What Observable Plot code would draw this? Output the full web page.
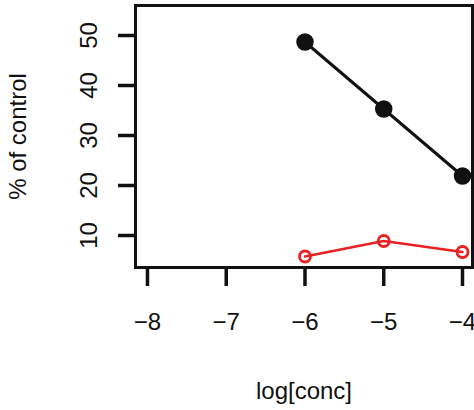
<!DOCTYPE html>
<html>
<head>
<meta charset="utf-8">
<script src="https://cdn.jsdelivr.net/npm/d3@7"></script>
<script src="https://cdn.jsdelivr.net/npm/@observablehq/plot@0.6"></script>
<style>
  html, body { margin: 0; padding: 0; background: #fff; }
  svg { display: block; }
  g[aria-label="x-axis tick"], g[aria-label="y-axis tick"] { stroke-width: 3.5px; }
</style>
</head>
<body>
<div id="chart"></div>
<script>
const logConc = [-6, -5, -4];
const seriesBlack = [48.7, 35.3, 21.9];
const seriesRed = [5.8, 8.9, 6.7];
const xTicks = [-8, -7, -6, -5, -4];
const yTicks = [10, 20, 30, 40, 50];
const xLabel = "log[conc]";
const yLabel = "% of control";

const black = logConc.map((x, i) => ({x, y: seriesBlack[i]}));
const red = logConc.map((x, i) => ({x, y: seriesRed[i]}));

const fmt = d => String(d).replace("-", "\u2212");

const chart = Plot.plot({
  width: 474,
  height: 410,
  marginLeft: 135,
  marginRight: 2,
  marginTop: 5,
  marginBottom: 143,
  style: {fontFamily: "'Liberation Sans', Arial, sans-serif", fontSize: "24px", color: "#111", background: "#fff"},
  x: {domain: [-8.152, -3.873]},
  y: {domain: [3.6, 56]},
  marks: [
    Plot.frame({stroke: "#111", strokeWidth: 3}),
    Plot.axisX({ticks: xTicks, tickFormat: fmt, tickSize: 19, tickPadding: 26, strokeWidth: 3.5, fontSize: 24,
      label: xLabel, labelAnchor: "center", labelArrow: "none", labelOffset: 131}),
    Plot.axisY({ticks: yTicks, tickSize: 17, tickPadding: 22, tickRotate: -90, strokeWidth: 3.5, fontSize: 24,
      label: yLabel, labelAnchor: "center", labelArrow: "none", labelOffset: 127}),
    Plot.line(black, {x: "x", y: "y", stroke: "#111", strokeWidth: 3}),
    Plot.dot(black, {x: "x", y: "y", r: 8, fill: "#111", stroke: "#111"}),
    Plot.line(red, {x: "x", y: "y", stroke: "#e82222", strokeWidth: 2.5}),
    Plot.dot(red, {x: "x", y: "y", r: 5.5, fill: "none", stroke: "#e82222", strokeWidth: 2.8})
  ]
});
document.getElementById("chart").appendChild(chart);
</script>
</body>
</html>
